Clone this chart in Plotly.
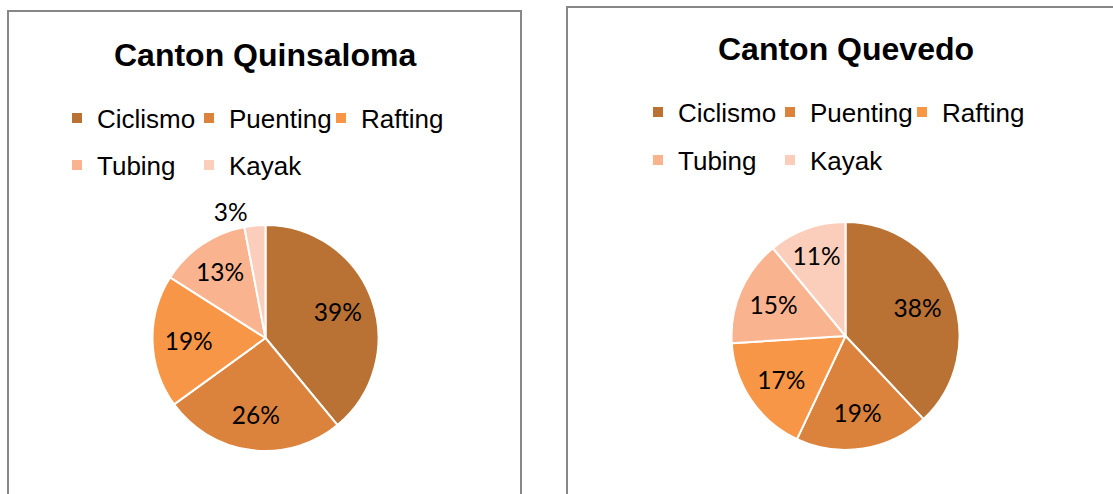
import plotly.graph_objects as go

# data
categories = ["Ciclismo", "Puenting", "Rafting", "Tubing", "Kayak"]
quinsaloma_pct = [39, 26, 19, 13, 3]
quevedo_pct = [38, 19, 17, 15, 11]
slice_colors = ["#B97134", "#DB833D", "#F79646", "#F9B48F", "#FBCEBB"]

W, H = 1113, 494


def px_x(v):
    return v / W


def px_y(v):
    return 1 - v / H


fig = go.Figure()

pies = [
    ("Canton Quinsaloma", quinsaloma_pct, (152, 379), (225, 451)),
    ("Canton Quevedo", quevedo_pct, (731.5, 959.5), (222, 450)),
]
for name, vals, (x0, x1), (y0, y1) in pies:
    dom = dict(x=[px_x(x0), px_x(x1)], y=[px_y(y1), px_y(y0)])
    # coloured slices
    fig.add_trace(go.Pie(
        labels=categories, values=vals, name=name,
        sort=False, direction="clockwise", rotation=0,
        marker=dict(colors=slice_colors, line=dict(color="white", width=2)),
        textinfo="none", domain=dom, showlegend=False,
        hoverinfo="label+percent",
    ))
    # labels only: a transparent donut puts them further out, like Excel does
    fig.add_trace(go.Pie(
        labels=categories, values=vals, name=name,
        sort=False, direction="clockwise", rotation=0, hole=0.36,
        marker=dict(colors=["rgba(0,0,0,0)"] * len(vals), line=dict(width=0)),
        texttemplate="%{percent:.0%}",
        textposition=["inside" if v >= 5 else "outside" for v in vals],
        insidetextorientation="horizontal",
        textfont=dict(family="Lato", size=24.5, color="black"),
        domain=dom, showlegend=False, hoverinfo="skip",
    ))

# legend: two rows per panel, like the Excel legend
rows = [
    ("legend", categories[:3], 57, 118),
    ("legend2", categories[3:], 57, 165),
    ("legend3", categories[:3], 638, 112),
    ("legend4", categories[3:], 638, 160),
]
legend_layout = {}
for key, cats, lx, ly in rows:
    for c in cats:
        fig.add_trace(go.Scatter(
            x=[None], y=[None], mode="markers", name=c,
            marker=dict(symbol="square", size=10, color=slice_colors[categories.index(c)]),
            legend=key, showlegend=True, hoverinfo="skip",
        ))
    legend_layout[key] = dict(
        orientation="h", x=px_x(lx), y=px_y(ly),
        xanchor="left", yanchor="middle",
        entrywidth=87, entrywidthmode="pixels",
        font=dict(family="Liberation Sans, Arial", size=26, color="black"),
        bgcolor="rgba(0,0,0,0)", borderwidth=0, tracegroupgap=0,
    )

titles = [("Canton Quinsaloma", 265, 55), ("Canton Quevedo", 846, 49)]
annotations = [
    dict(text=f"<b>{t}</b>", x=px_x(cx), y=px_y(cy), xref="paper", yref="paper",
         xanchor="center", yanchor="middle", showarrow=False,
         font=dict(family="Liberation Sans, Arial", size=32, color="black"))
    for t, cx, cy in titles
]

# chart area borders
border = dict(color="#878787", width=2)
shapes = [
    dict(type="rect", xref="paper", yref="paper", x0=px_x(8), x1=px_x(521),
         y0=px_y(520), y1=px_y(11), line=border, fillcolor="rgba(0,0,0,0)", layer="below"),
    dict(type="rect", xref="paper", yref="paper", x0=px_x(567), x1=px_x(1140),
         y0=px_y(520), y1=px_y(7), line=border, fillcolor="rgba(0,0,0,0)", layer="below"),
]

fig.update_layout(
    width=W, height=H,
    margin=dict(l=0, r=0, t=0, b=0),
    paper_bgcolor="white",
    plot_bgcolor="white",
    xaxis=dict(visible=False),
    yaxis=dict(visible=False),
    annotations=annotations,
    shapes=shapes,
    **legend_layout,
)

fig.write_html(
    "out.html",
    config={"displayModeBar": False},
    post_script="document.body.style.margin = '0';",
)
